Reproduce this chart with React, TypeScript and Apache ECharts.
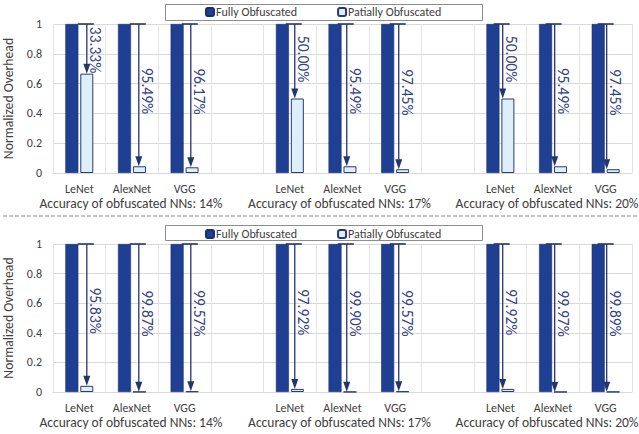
import React, { useEffect, useRef } from "react";
import * as echarts from "echarts";

const FONT = "Carlito, Calibri, Lato, 'Liberation Sans', sans-serif";

const categories = ["LeNet", "AlexNet", "VGG", "", "LeNet", "AlexNet", "VGG", "", "LeNet", "AlexNet", "VGG"];
const groupLabels = [
  "Accuracy of obfuscated NNs: 14%",
  "Accuracy of obfuscated NNs: 17%",
  "Accuracy of obfuscated NNs: 20%",
];
const groupCenterIndex = [1, 5, 9];

const seriesNames = ["Fully Obfuscated", "Patially Obfuscated"];

// top panel
const topFully = [1, 1, 1, null, 1, 1, 1, null, 1, 1, 1];
const topPartial = [0.6667, 0.0451, 0.0383, null, 0.5, 0.0451, 0.0255, null, 0.5, 0.0451, 0.0255];
const topReduction = ["33.33%", "95.49%", "96.17%", "", "50.00%", "95.49%", "97.45%", "", "50.00%", "95.49%", "97.45%"];

// bottom panel
const bottomFully = [1, 1, 1, null, 1, 1, 1, null, 1, 1, 1];
const bottomPartial = [0.0417, 0.0013, 0.0043, null, 0.0208, 0.001, 0.0043, null, 0.0208, 0.0003, 0.0011];
const bottomReduction = ["95.83%", "99.87%", "99.57%", "", "97.92%", "99.90%", "99.57%", "", "97.92%", "99.97%", "99.89%"];

const FULL_COLOR = "#1f3f93";
const PART_FILL = "#ddeff8";
const PART_BORDER = "#2b3a73";
const ARROW_COLOR = "#26346e";
const LABEL_COLOR = "#34428a";
const TEXT_COLOR = "#404040";

function makeArrowRenderer(labels: string[]) {
  return (params: any, api: any) => {
    const idx = api.value(0);
    const v = api.value(1);
    const top = api.coord([idx, 1]);
    const end = api.coord([idx, v]);
    const x = top[0] + 7.5 - 0.65 * idx;
    const y0 = top[1];
    const y1 = end[1];
    const midY = Math.max(y0 + (y1 - y0) * 0.47, y0 + 26);
    return {
      type: "group",
      children: [
        { type: "line", shape: { x1: x - 9, y1: y0, x2: x + 7, y2: y0 }, style: { stroke: ARROW_COLOR, lineWidth: 1.6 } },
        { type: "line", shape: { x1: x, y1: y0, x2: x, y2: y1 - 8 }, style: { stroke: ARROW_COLOR, lineWidth: 1.3 } },
        {
          type: "polygon",
          shape: { points: [[x - 3.5, y1 - 10], [x + 3.5, y1 - 10], [x, y1]] },
          style: { fill: ARROW_COLOR },
        },
        {
          type: "text",
          x: x + 9,
          y: midY,
          rotation: -Math.PI / 2,
          style: {
            text: labels[idx],
            fontSize: 15.5,
            fill: LABEL_COLOR,
            align: "center",
            verticalAlign: "middle",
            fontFamily: FONT,
          },
        },
      ],
    };
  };
}

function xAxisFor(gridIndex: number) {
  return {
    type: "category",
    gridIndex,
    data: categories,
    axisLine: { lineStyle: { color: "#d9d9d9" } },
    axisTick: { show: false },
    splitLine: { show: true, lineStyle: { color: "#e3e3e3" } },
    axisLabel: {
      interval: 0,
      margin: 10,
      fontSize: 12,
      color: TEXT_COLOR,
      fontFamily: FONT,
    },
  };
}

function groupAxisFor(gridIndex: number, offset: number) {
  const gStyle = (pad: number) => ({
    fontSize: 13.5,
    color: TEXT_COLOR,
    fontFamily: FONT,
    padding: [0, pad, 0, 0],
  });
  return {
    type: "category",
    gridIndex,
    position: "bottom",
    offset,
    data: categories,
    axisLine: { show: false },
    axisTick: { show: false },
    splitLine: { show: false },
    axisLabel: {
      interval: 0,
      margin: 10,
      formatter: (_val: string, idx: number) => {
        const g = groupCenterIndex.indexOf(idx);
        return g >= 0 ? `{g${g}|${groupLabels[g]}}` : "";
      },
      rich: { g0: gStyle(2), g1: gStyle(6), g2: gStyle(12) },
    },
  };
}

function yAxisFor(gridIndex: number) {
  return {
    type: "value",
    gridIndex,
    min: 0,
    max: 1,
    interval: 0.2,
    name: "Normalized Overhead",
    nameLocation: "middle",
    nameGap: 26,
    nameTextStyle: { fontSize: 13.7, color: TEXT_COLOR, fontFamily: FONT },
    axisLabel: { color: TEXT_COLOR, fontSize: 12, margin: 11, fontFamily: FONT },
    splitLine: { lineStyle: { color: "#d9d9d9" } },
    axisLine: { show: false },
    axisTick: { show: false },
  };
}

function legendFor(top: number) {
  return {
    data: seriesNames,
    left: 205,
    top,
    itemWidth: 8,
    itemHeight: 8,
    itemGap: 40,
    padding: 0,
    textStyle: { fontSize: 12, color: TEXT_COLOR, fontFamily: FONT, padding: [0, 0, 0, -3] },
  };
}

function seriesFor(gridIndex: number, axisIndex: number, fully: (number | null)[], partial: (number | null)[], labels: string[]) {
  return [
    {
      name: seriesNames[0],
      type: "bar",
      xAxisIndex: axisIndex,
      yAxisIndex: gridIndex,
      data: fully.map((v) => (v == null ? "-" : v)),
      barWidth: 13,
      barGap: "15%",
      itemStyle: { color: FULL_COLOR, borderColor: "#17306f", borderWidth: 0.6 },
    },
    {
      name: seriesNames[1],
      type: "bar",
      xAxisIndex: axisIndex,
      yAxisIndex: gridIndex,
      data: partial.map((v) => (v == null ? "-" : v)),
      barWidth: 13,
      barGap: "15%",
      itemStyle: { color: PART_FILL, borderColor: PART_BORDER, borderWidth: 1 },
    },
    {
      type: "custom",
      xAxisIndex: axisIndex,
      yAxisIndex: gridIndex,
      z: 5,
      renderItem: makeArrowRenderer(labels),
      data: partial
        .map((v, i) => (v == null ? null : [i, v]))
        .filter((d) => d !== null),
      tooltip: { show: false },
    },
  ];
}

export default function App() {
  const ref = useRef<HTMLDivElement>(null);
  useEffect(() => {
    if (!ref.current) return;
    const chart = echarts.init(ref.current, undefined, { renderer: "svg" });
    const option: any = {
      animation: false,
      backgroundColor: "#ffffff",
      textStyle: { fontFamily: FONT },
      grid: [
        { left: 53, right: 7, top: 24, height: 149, outerBoundsMode: "none", containLabel: false },
        { left: 53, right: 7, top: 244, height: 148, outerBoundsMode: "none", containLabel: false },
      ],
      xAxis: [xAxisFor(0), groupAxisFor(0, 13), xAxisFor(1), groupAxisFor(1, 13)],
      yAxis: [yAxisFor(0), yAxisFor(1)],
      legend: [legendFor(6), legendFor(228)],
      graphic: [
        { type: "rect", shape: { x: 165.5, y: 4.5, width: 317, height: 16 }, style: { fill: "none", stroke: "#8c8c8c", lineWidth: 1 }, z: 10 },
        { type: "rect", shape: { x: 165.5, y: 225.5, width: 317, height: 15 }, style: { fill: "none", stroke: "#8c8c8c", lineWidth: 1 }, z: 10 },
        { type: "line", shape: { x1: 3, y1: 216, x2: 639, y2: 216 }, style: { stroke: "#c4c4c4", lineWidth: 2, lineDash: [4, 2] } },
      ],
      series: [
        ...seriesFor(0, 0, topFully, topPartial, topReduction),
        ...seriesFor(1, 2, bottomFully, bottomPartial, bottomReduction),
      ],
    };
    chart.setOption(option);
    return () => chart.dispose();
  }, []);
  return (
    <div
      ref={ref}
      style={{ position: "fixed", left: 0, top: 0, width: 639, height: 434 }}
    />
  );
}
